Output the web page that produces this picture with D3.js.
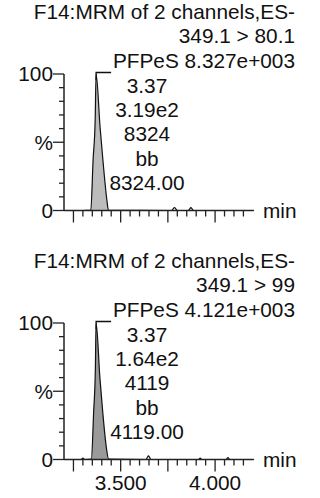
<!DOCTYPE html>
<html>
<head>
<meta charset="utf-8">
<script src="https://cdn.jsdelivr.net/npm/d3@7"></script>
<style>
  html, body { margin: 0; padding: 0; background: #fff; }
  svg { display: block; }
  text { font-family: "Liberation Sans", Arial, Helvetica, sans-serif; fill: #111; }
</style>
</head>
<body>
<svg id="chart" width="320" height="498"></svg>
<script>
// Acquisition / channel headers
const functionTitle = "F14:MRM of 2 channels,ES-";
const transitions = ["349.1 > 80.1", "349.1 > 99"];
const compoundName = "PFPeS";
const maxIntensity = ["8.327e+003", "4.121e+003"];

// Peak annotations (retention time, height, area, peak type, area)
const peakRT = [3.37, 3.37];
const peakHeight = ["3.19e2", "1.64e2"];
const peakArea = [8324, 4119];
const peakType = ["bb", "bb"];

// Chromatogram traces: time (min) and relative intensity (%)
const timeA = [3.20, 3.30, 3.342, 3.354, 3.365, 3.37, 3.391, 3.406, 3.427, 3.435, 3.77, 3.777, 3.785, 3.793, 3.80, 3.858, 3.865, 3.872, 3.879, 3.886, 4.205];
const percentA = [0, 0, 0.3, 37, 66, 100, 61, 37, 7.7, 0.3, 0, 1.0, 2.2, 1.0, 0, 0, 1.0, 2.2, 1.0, 0, 0];

const timeB = [3.20, 3.29, 3.30, 3.31, 3.345, 3.357, 3.366, 3.37, 3.39, 3.405, 3.425, 3.436, 3.635, 3.641, 3.647, 3.653, 3.66, 3.912, 3.921, 3.93, 4.058, 4.068, 4.078, 4.205];
const percentB = [0, 0, 1.0, 0, 0.3, 35, 66, 100, 60, 35, 8, 0.3, 0, 1.5, 2.6, 1.5, 0, 0, 1.0, 0, 0, 1.4, 0, 0];

// Axis ticks
const timeDomain = [3.20, 4.205];
const minorTimeTicks = d3.range(3.25, 4.151, 0.05).map(v => +v.toFixed(2));
const majorTimeTicks = [3.25, 3.5, 3.75, 4.0];
const timeTickLabels = [3.5, 4.0];
const percentTicks = d3.range(0, 101, 10);
const percentLabels = [[100, "100"], [50, "%"], [0, "0"]];

const svg = d3.select("#chart");
const FONT = 20.8;

const x = d3.scaleLinear().domain(timeDomain).range([64, 253.8]);

const panels = [
  { time: timeA, pct: percentA, fill: "#bcbcbc", offset: 0, showLabels: false },
  { time: timeB, pct: percentB, fill: "#9a9a9a", offset: 249, showLabels: true }
];

panels.forEach((p, i) => {
  const g = svg.append("g").attr("transform", `translate(0,${p.offset})`);
  const y = d3.scaleLinear().domain([0, 100]).range([210.5, 74]);

  // Header block, right aligned
  const header = [functionTitle, transitions[i], `${compoundName} ${maxIntensity[i]}`];
  g.selectAll("text.header").data(header).join("text")
    .attr("class", "header")
    .attr("x", 295)
    .attr("y", (d, k) => 19 + k * 24.3)
    .attr("text-anchor", "end")
    .attr("font-size", FONT)
    .text(d => d);

  // Trace
  const pts = p.time.map((t, k) => [t, p.pct[k]]);
  const area = d3.area().x(d => x(d[0])).y0(y(0)).y1(d => y(d[1])).curve(d3.curveMonotoneX);
  const line = d3.line().x(d => x(d[0])).y(d => y(d[1])).curve(d3.curveMonotoneX);

  // Shaded integrated peak region
  const peakPts = pts.filter(d => d[0] >= 3.33 && d[0] <= 3.44);
  g.append("path").attr("d", area(peakPts)).attr("fill", p.fill);
  g.append("path").attr("d", line(pts))
    .attr("fill", "none").attr("stroke", "#111").attr("stroke-width", 1.2);

  // Peak marker bracket
  const apexIdx = d3.maxIndex(p.pct);
  const ax = x(p.time[apexIdx]);
  const ay = y(p.pct[apexIdx]);
  g.append("path")
    .attr("d", `M${ax},${ay + 6}V${ay - 1.5}H${ax + 15}`)
    .attr("fill", "none").attr("stroke", "#111").attr("stroke-width", 1.3);

  // Peak annotation
  const ann = [peakRT[i].toFixed(2), peakHeight[i], String(peakArea[i]), peakType[i], peakArea[i].toFixed(2)];
  g.selectAll("text.ann").data(ann).join("text")
    .attr("class", "ann")
    .attr("x", 147)
    .attr("y", (d, k) => 92.5 + k * 24.4)
    .attr("text-anchor", "middle")
    .attr("font-size", FONT)
    .text(d => d);

  // Y axis
  const axisColor = "#222";
  g.append("line").attr("x1", x(timeDomain[0])).attr("x2", x(timeDomain[0]))
    .attr("y1", y(100)).attr("y2", y(0)).attr("stroke", axisColor).attr("stroke-width", 1.5);
  g.selectAll("line.yt").data(percentTicks).join("line")
    .attr("class", "yt")
    .attr("x1", d => x(timeDomain[0]) - (d % 50 === 0 ? 11 : 5))
    .attr("x2", x(timeDomain[0]))
    .attr("y1", d => y(d)).attr("y2", d => y(d))
    .attr("stroke", axisColor).attr("stroke-width", 1.3);
  g.selectAll("text.yl").data(percentLabels).join("text")
    .attr("class", "yl")
    .attr("x", 53).attr("y", d => y(d[0]))
    .attr("dy", "0.36em")
    .attr("text-anchor", "end")
    .attr("font-size", FONT)
    .text(d => d[1]);

  // X axis
  g.append("line").attr("x1", x(timeDomain[0])).attr("x2", x(timeDomain[1]))
    .attr("y1", y(0)).attr("y2", y(0)).attr("stroke", axisColor).attr("stroke-width", 1.5);
  g.selectAll("line.xt").data(minorTimeTicks).join("line")
    .attr("class", "xt")
    .attr("x1", d => x(d)).attr("x2", d => x(d))
    .attr("y1", y(0))
    .attr("y2", d => y(0) + (majorTimeTicks.some(m => Math.abs(m - d) < 1e-6) ? 12 : 6))
    .attr("stroke", axisColor).attr("stroke-width", 1.3);
  g.append("text").attr("x", 263).attr("y", y(0) + 7.5)
    .attr("font-size", FONT).text("min");

  if (p.showLabels) {
    g.selectAll("text.xl").data(timeTickLabels).join("text")
      .attr("class", "xl")
      .attr("x", d => x(d)).attr("y", 241)
      .attr("text-anchor", "middle")
      .attr("font-size", FONT)
      .text(d => d.toFixed(3));
  }
});
</script>
</body>
</html>
